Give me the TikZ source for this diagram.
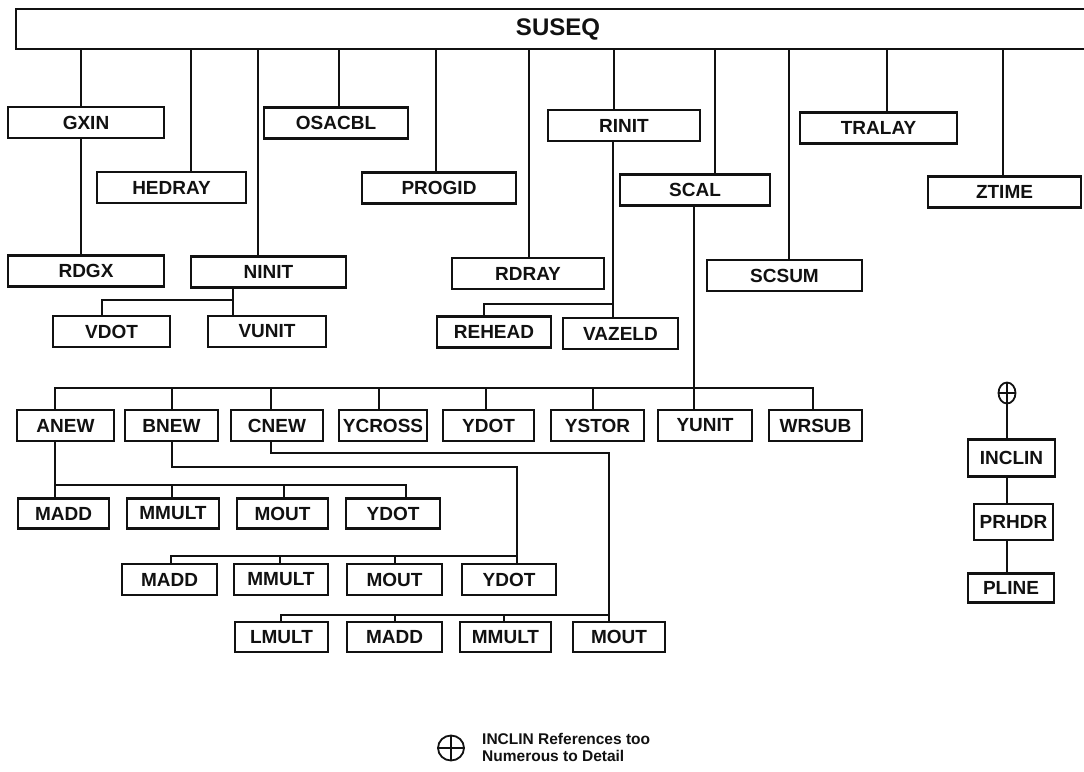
\documentclass[tikz,border=0pt]{standalone}
\usepackage{fontspec}
\setmainfont{Liberation Sans}
\usepackage{tikz}
\usetikzlibrary{positioning,shapes.geometric}
\definecolor{InkBlack}{HTML}{111111}

\tikzset{
  modbox/.style={draw=InkBlack, line width=2.2pt, fill=white, inner sep=0pt,
    minimum height=31, text=InkBlack, font=\bfseries\fontsize{19}{19}\selectfont},
  link/.style={draw=InkBlack, line width=1.8pt},
  refmark/.style={ellipse, draw=InkBlack, line width=1.8pt, inner sep=0pt,
    path picture={\draw[InkBlack, line width=1.8pt]
      (path picture bounding box.north) -- (path picture bounding box.south)
      (path picture bounding box.west) -- (path picture bounding box.east);}},
}

\begin{document}
\begin{tikzpicture}[x=1pt, y=-1pt]
  \clip (0,0) rectangle (1084,771);
  \fill[white] (0,0) rectangle (1084,771);

  % Main program bar
  \node[modbox, minimum width=1084, minimum height=40,
    font=\bfseries\fontsize{24}{24}\selectfont] (suseq) at (558,29) {SUSEQ};

  % First level
  \node[modbox, minimum width=156] (gxin) at (86,122.5) {GXIN};
  \node[modbox, minimum width=149] (hedray) at (171.5,187.5) {HEDRAY};
  \node[modbox, minimum width=144] (osacbl) at (336,123) {OSACBL};
  \node[modbox, minimum width=154] (progid) at (439,188) {PROGID};
  \node[modbox, minimum width=152] (rinit) at (624,125.5) {RINIT};
  \node[modbox, minimum width=150] (scal) at (695,190) {SCAL};
  \node[modbox, minimum width=157] (tralay) at (878.5,128) {TRALAY};
  \node[modbox, minimum width=153] (ztime) at (1004.5,192) {ZTIME};
  \node[modbox, minimum width=156] (rdgx) at (86,271) {RDGX};
  \node[modbox, minimum width=155] (ninit) at (268.5,272) {NINIT};
  \node[modbox, minimum width=152] (rdray) at (528,273.5) {RDRAY};
  \node[modbox, minimum width=155] (scsum) at (784.5,275.5) {SCSUM};

  % Calls from SUSEQ
  \foreach \x/\n in {81/gxin, 191/hedray, 258/ninit, 339/osacbl, 436/progid,
      529/rdray, 614/rinit, 715/scal, 789/scsum, 887/tralay, 1003/ztime}
    \draw[link] (suseq.south -| \x,0) -- (\n.north -| \x,0);
  \draw[link] (gxin.south -| 81,0) -- (rdgx.north -| 81,0);

  % NINIT and RINIT
  \node[modbox, minimum width=117] (vdotN) at (111.5,331.5) {VDOT};
  \node[modbox, minimum width=118] (vunitN) at (267,331.5) {VUNIT};
  \coordinate (ninitbus) at (233,300);
  \draw[link] (ninit.south -| 233,0) -- (vunitN.north -| 233,0);
  \draw[link] (ninitbus) -| (vdotN.north -| 102,0);

  \node[modbox, minimum width=114] (rehead) at (494,332) {REHEAD};
  \node[modbox, minimum width=115] (vazeld) at (620.5,333.5) {VAZELD};
  \coordinate (rinitbus) at (613,304);
  \draw[link] (rinit.south -| 613,0) -- (vazeld.north -| 613,0);
  \draw[link] (rinitbus) -| (rehead.north -| 484,0);

  % SCAL row
  \foreach \cx/\w/\n/\t in {65.5/97/anew/ANEW, 171.5/93/bnew/BNEW, 277/92/cnew/CNEW,
      383/88/ycross/YCROSS, 488.5/91/ydotS/YDOT, 597.5/93/ystor/YSTOR,
      705/94/yunitS/YUNIT, 815.5/93/wrsub/WRSUB}
    \node[modbox, minimum width=\w] (\n) at (\cx,425.5) {\t};
  \coordinate (scalbus) at (694,388);
  \draw[link] (scal.south -| 694,0) -- (yunitS.north -| 694,0);
  \draw[link] (anew.north -| 55,0) |- (scalbus) -| (wrsub.north -| 813,0);
  \foreach \x/\n in {172/bnew, 271/cnew, 379/ycross, 486/ydotS, 593/ystor}
    \draw[link] (scalbus -| \x,0) -- (\n.north -| \x,0);

  % ANEW row
  \foreach \cx/\w/\n/\t in {63.5/91/maddA/MADD, 173/92/mmultA/MMULT,
      282.5/91/moutA/MOUT, 393/94/ydotA/YDOT}
    \node[modbox, minimum width=\w, minimum height=30] (\n) at (\cx,513.5) {\t};
  \coordinate (anewbus) at (55,485);
  \draw[link] (anew.south -| 55,0) -- (maddA.north -| 55,0);
  \draw[link] (anewbus) -| (ydotA.north -| 406,0);
  \foreach \x/\n in {172/mmultA, 284/moutA}
    \draw[link] (anewbus -| \x,0) -- (\n.north -| \x,0);

  % BNEW row
  \foreach \cx/\w/\n/\t in {169.5/95/maddB/MADD, 281/94/mmultB/MMULT,
      394.5/95/moutB/MOUT, 509/94/ydotB/YDOT}
    \node[modbox, minimum width=\w] (\n) at (\cx,579.5) {\t};
  \coordinate (bnewjog) at (517,467);
  \coordinate (bnewbus) at (517,556);
  \draw[link] (bnew.south -| 172,0) |- (bnewjog) -- (ydotB.north -| 517,0);
  \draw[link] (bnewbus) -| (maddB.north -| 171,0);
  \foreach \x/\n in {280/mmultB, 395/moutB}
    \draw[link] (bnewbus -| \x,0) -- (\n.north -| \x,0);

  % CNEW row
  \foreach \cx/\w/\n/\t in {281.5/93/lmultC/LMULT, 394.5/95/maddC/MADD,
      505.5/91/mmultC/MMULT, 619/92/moutC/MOUT}
    \node[modbox, minimum width=\w, minimum height=30] (\n) at (\cx,637) {\t};
  \coordinate (cnewjog) at (609,453);
  \coordinate (cnewbus) at (609,615);
  \draw[link] (cnew.south -| 271,0) |- (cnewjog) -- (moutC.north -| 609,0);
  \draw[link] (cnewbus) -| (lmultC.north -| 281,0);
  \foreach \x/\n in {395/maddC, 504/mmultC}
    \draw[link] (cnewbus -| \x,0) -- (\n.north -| \x,0);

  % INCLIN chain
  \node[refmark, minimum width=17, minimum height=21] (incref) at (1007,393) {};
  \node[modbox, minimum width=87, minimum height=37] (inclin) at (1011.5,458) {INCLIN};
  \node[modbox, minimum width=79, minimum height=36] (prhdr) at (1013.5,522) {PRHDR};
  \node[modbox, minimum width=86, minimum height=29] (pline) at (1011,588) {PLINE};
  \draw[link] (incref.south) -- (inclin.north -| incref.south);
  \draw[link] (inclin.south -| 1007,0) -- (prhdr.north -| 1007,0);
  \draw[link] (prhdr.south -| 1007,0) -- (pline.north -| 1007,0);

  % Legend
  \node[refmark, minimum width=26, minimum height=25] (legmark) at (451,748) {};
  \node[anchor=west, align=left, inner sep=0pt, text=InkBlack,
    font=\bfseries\fontsize{15.5}{17}\selectfont] (legtext) at (482,747)
    {INCLIN References too\\Numerous to Detail};
\end{tikzpicture}
\end{document}
